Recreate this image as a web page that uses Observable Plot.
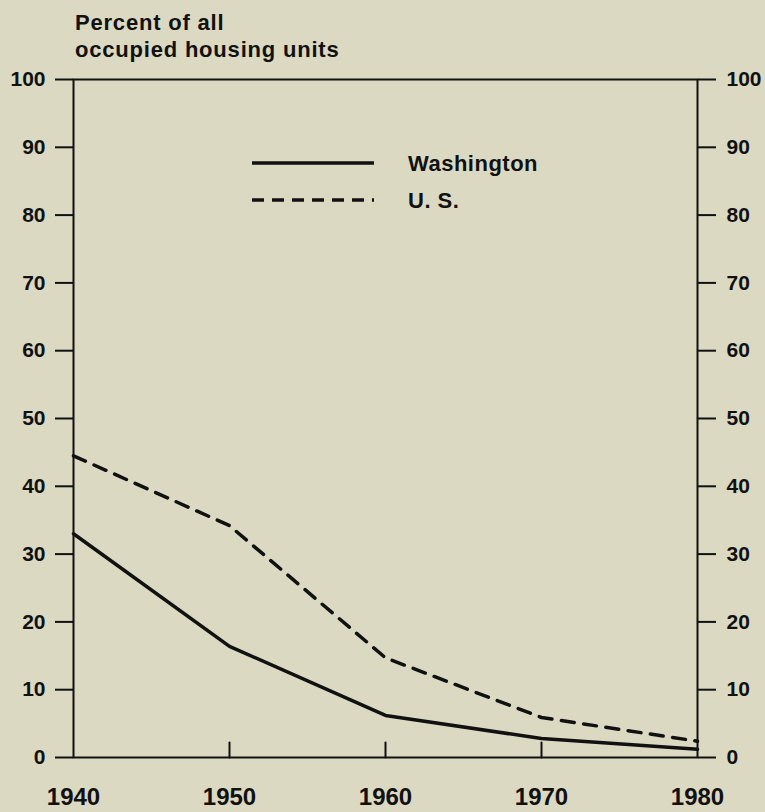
<!DOCTYPE html>
<html><head><meta charset="utf-8">
<script src="https://cdn.jsdelivr.net/npm/d3@7"></script>
<script src="https://cdn.jsdelivr.net/npm/@observablehq/plot@0.6"></script>
<style>
body{margin:0;background:#dcd9c2;}
#wrap{position:relative;width:765px;height:812px;overflow:hidden;font-family:"Liberation Sans",Arial,sans-serif;}
#title{height:62px;box-sizing:border-box;padding:9px 0 0 75px;font-size:22px;line-height:27px;font-weight:bold;color:#111;letter-spacing:0.8px;}
#legend{position:absolute;left:0;top:0;}
</style></head><body>
<div id="wrap"><div id="title">Percent of all<br>occupied housing units</div><div id="chart"></div><svg id="legend" width="765" height="240"></svg></div>
<script>
const years = [1940, 1950, 1960, 1970, 1980];
const washington = [33, 16.4, 6.2, 2.8, 1.2];
const us = [44.5, 34.2, 14.7, 5.9, 2.4];
const yTicks = [0, 10, 20, 30, 40, 50, 60, 70, 80, 90, 100];
const seriesNames = ["Washington", "U. S."];
const dash = "13,9.5";

const data = years.flatMap((yr, i) => [
  {year: yr, value: washington[i], series: seriesNames[0]},
  {year: yr, value: us[i], series: seriesNames[1]}
]);

const lineShape = {draw(context, l) { context.moveTo(0, 0); context.lineTo(0, -l); }};

const plot = Plot.plot({
  width: 765, height: 750,
  marginTop: 17, marginBottom: 55, marginLeft: 73, marginRight: 68,
  style: {background: "transparent", fontFamily: "'Liberation Sans', Arial, sans-serif", fontWeight: "bold", color: "#111", overflow: "visible"},
  x: {domain: [1940, 1980]},
  y: {domain: [0, 100]},
  marks: [
    Plot.frame({stroke: "#111", strokeWidth: 2}),
    Plot.axisY({anchor: "left", ticks: yTicks, tickSize: 18, tickPadding: 10, strokeWidth: 2, label: null, fontSize: 21}),
    Plot.axisY({anchor: "right", ticks: yTicks, tickSize: 18, tickPadding: 11, strokeWidth: 2, label: null, fontSize: 21}),
    Plot.axisX({ticks: years, tickSize: 0, tickPadding: 30, tickFormat: d => String(d), label: null, fontSize: 24}),
    Plot.vector(years.slice(1, -1), {x: d => d, y: () => 0, length: 15, anchor: "start", rotate: 0, shape: lineShape, stroke: "#111", strokeWidth: 2}),
    Plot.line(data.filter(d => d.series === seriesNames[1]), {x: "year", y: "value", stroke: "#111", strokeWidth: 3.5, strokeDasharray: dash}),
    Plot.line(data.filter(d => d.series === seriesNames[0]), {x: "year", y: "value", stroke: "#111", strokeWidth: 3.5})
  ]
});
document.getElementById("chart").appendChild(plot);

const lg = d3.select("#legend");
const rows = [{name: seriesNames[0], y: 163, dash: null}, {name: seriesNames[1], y: 200, dash: "12,8"}];
rows.forEach(r => {
  lg.append("line").attr("x1", 252).attr("x2", 374).attr("y1", r.y).attr("y2", r.y)
    .attr("stroke", "#111").attr("stroke-width", 3.5).attr("stroke-dasharray", r.dash);
  lg.append("text").attr("x", 408).attr("y", r.y).attr("dy", "0.36em")
    .attr("font-size", 22).attr("font-weight", "bold").attr("fill", "#111").attr("letter-spacing", 0.5)
    .attr("font-family", "'Liberation Sans', Arial, sans-serif").text(r.name);
});
</script>
</body></html>
